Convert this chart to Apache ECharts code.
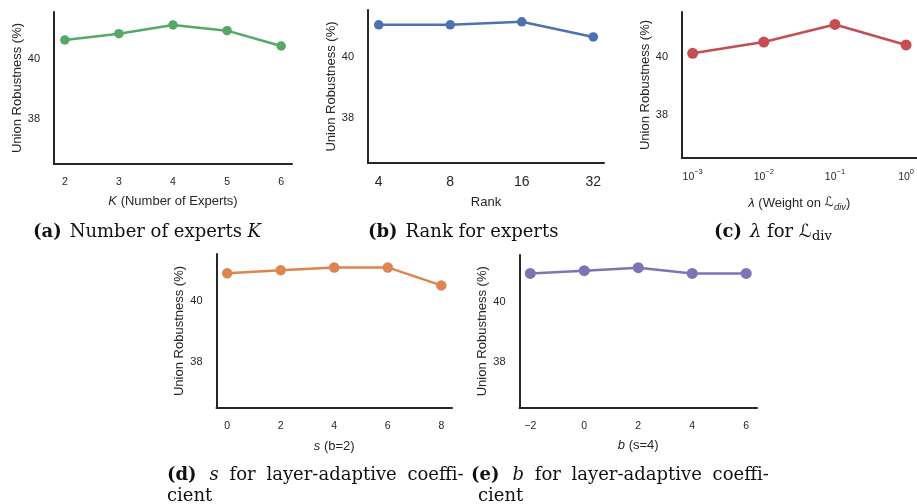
<!DOCTYPE html>
<html>
<head>
<meta charset="utf-8">
<script src="https://cdn.jsdelivr.net/npm/echarts@6/dist/echarts.min.js"></script>
<style>
html, body { margin: 0; padding: 0; background: #fff; }
#chart { width: 917px; height: 504px; }
</style>
</head>
<body>
<div id="chart"></div>
<script>
// y range shared by all panels
const yMin = 36.5
const yMax = 41.55
const yTicks = [38, 40]

const kValues = [2, 3, 4, 5, 6]
const kRobust = [40.62, 40.83, 41.12, 40.93, 40.42]

const rankValues = [4, 8, 16, 32]
const rankRobust = [41.06, 41.06, 41.16, 40.66]

const lambdaValues = [0.001, 0.01, 0.1, 1]
const lambdaRobust = [40.12, 40.51, 41.12, 40.41]

const sValues = [0, 2, 4, 6, 8]
const sRobust = [40.92, 41.02, 41.11, 41.11, 40.52]

const bValues = [-2, 0, 2, 4, 6]
const bRobust = [40.94, 41.03, 41.13, 40.94, 40.94]

const ink = '#262626'
const sans = "'Liberation Sans', Arial, sans-serif"
const serif = "'DejaVu Serif', serif"

// matplotlib style 5% margins
const linRange = (vals) => {
  const lo = Math.min(...vals), hi = Math.max(...vals)
  const pad = (hi - lo) * 0.05
  return [lo - pad, hi + pad]
}
const logRange = (vals, base) => {
  const lg = vals.map(v => Math.log(v) / Math.log(base))
  const lo = Math.min(...lg), hi = Math.max(...lg)
  const pad = (hi - lo) * 0.05
  return [Math.pow(base, lo - pad), Math.pow(base, hi + pad)]
}

const panels = [
  { grid: { left: 54, top: 12, width: 238, height: 152 }, color: '#55a868', size: 9.5,
    xs: kValues, ys: kRobust, kind: 'lin', tickSize: 10.5, nameGap: 28,
    name: '{i|K} (Number of Experts)' },
  { grid: { left: 368, top: 10, width: 236, height: 153 }, color: '#4c72b0', size: 9.5,
    xs: rankValues, ys: rankRobust, kind: 'log2', tickSize: 14, nameGap: 30,
    name: 'Rank' },
  { grid: { left: 682, top: 12, width: 235, height: 146 }, color: '#c44e52', size: 11,
    xs: lambdaValues, ys: lambdaRobust, kind: 'log10', tickSize: 10.5, nameGap: 36,
    name: '{i|λ} (Weight on {cal|ℒ}{sub|div})' },
  { grid: { left: 216.5, top: 254, width: 235.5, height: 154 }, color: '#dd8452', size: 10.5,
    xs: sValues, ys: sRobust, kind: 'lin', tickSize: 10.5, nameGap: 29,
    name: '{i|s} (b=2)' },
  { grid: { left: 519.5, top: 255, width: 237.5, height: 152.5 }, color: '#8172b3', size: 11,
    xs: bValues, ys: bRobust, kind: 'lin', tickSize: 10.5, nameGap: 29,
    name: '{i|b} (s=4)' }
]

const nameRich = {
  i: { fontStyle: 'italic', fontSize: 13, fontFamily: sans, color: ink },
  cal: { fontStyle: 'italic', fontSize: 13, fontFamily: "'DejaVu Sans', sans-serif", color: ink },
  sub: { fontStyle: 'italic', fontSize: 9.5, fontFamily: sans, color: ink, verticalAlign: 'bottom', lineHeight: 10 }
}

const xAxisFor = (p, i) => {
  const base = {
    gridIndex: i,
    name: p.name,
    nameLocation: 'middle',
    nameGap: p.nameGap,
    nameTextStyle: { fontSize: 13, fontFamily: sans, color: ink, lineHeight: 18, rich: nameRich },
    axisLine: { show: true, onZero: false, lineStyle: { color: ink, width: 2 } },
    axisTick: { show: false },
    splitLine: { show: false },
    axisLabel: { fontSize: p.tickSize, fontFamily: sans, color: ink, margin: 13 }
  }
  if (p.kind === 'lin') {
    const r = linRange(p.xs)
    return Object.assign(base, { type: 'value', min: r[0], max: r[1],
      axisLabel: Object.assign(base.axisLabel, { customValues: p.xs,
        formatter: v => (v < 0 ? '\u2212' + (-v) : String(v)) }) })
  }
  const logBase = p.kind === 'log2' ? 2 : 10
  const r = logRange(p.xs, logBase)
  const lbl = Object.assign(base.axisLabel, { showMinLabel: false, showMaxLabel: false })
  if (logBase === 10) {
    lbl.formatter = v => {
      const e = Math.round(Math.log10(v))
      return '10{sup|' + (e < 0 ? '\u2212' + (-e) : e) + '}'
    }
    lbl.lineHeight = 18
    lbl.margin = 10
    lbl.rich = { sup: { fontSize: 7.5, fontFamily: sans, color: ink, verticalAlign: 'top', lineHeight: 8 } }
  } else {
    lbl.formatter = v => String(Math.round(v))
    lbl.margin = 12
  }
  return Object.assign(base, { type: 'log', logBase, min: r[0], max: r[1], splitNumber: 3, axisLabel: lbl })
}

const yAxisFor = (p, i) => ({
  type: 'value',
  gridIndex: i,
  min: yMin,
  max: yMax,
  name: 'Union Robustness (%)',
  nameLocation: 'middle',
  nameGap: 30,
  nameTextStyle: { fontSize: 13, fontFamily: sans, color: ink },
  axisLine: { show: true, onZero: false, lineStyle: { color: ink, width: 2 } },
  axisTick: { show: false },
  splitLine: { show: false },
  axisLabel: { customValues: yTicks, fontSize: 11, fontFamily: sans, color: ink, margin: 14 }
})

const capRich = {
  b: { fontFamily: serif, fontWeight: 'bold', fontSize: 18, color: '#111', padding: [0, 8, 0, 0] },
  bw: { fontFamily: serif, fontWeight: 'bold', fontSize: 18, color: '#111', padding: [0, 13, 0, 0] },
  n: { fontFamily: serif, fontSize: 18, color: '#111' },
  g: { fontFamily: serif, fontSize: 18, color: '#111', padding: [0, 5, 0, 0] },
  i: { fontFamily: serif, fontStyle: 'italic', fontSize: 18, color: '#111' },
  cal: { fontFamily: "'DejaVu Serif', 'DejaVu Sans', serif", fontStyle: 'italic', fontSize: 18, color: '#111' },
  sub: { fontFamily: serif, fontSize: 13, color: '#111', verticalAlign: 'bottom', lineHeight: 12 }
}

const captions = [
  { left: 33, top: 221, text: '{b|(a)}{n|Number of experts }{i|K}' },
  { left: 368, top: 221, text: '{b|(b)}{n|Rank for experts}' },
  { left: 714, top: 221, text: '{b|(c)}{i|λ}{n| for }{cal|ℒ}{sub|div}' },
  { left: 167, top: 464, text: '{bw|(d)}{i|s}{g| }{n|for}{g| }{n|layer-adaptive}{g| }{n|coeffi-}' },
  { left: 167, top: 485, text: '{n|cient}' },
  { left: 471, top: 464, text: '{bw|(e)}{i|b}{g| }{n|for}{g| }{n|layer-adaptive}{g| }{n|coeffi-}' },
  { left: 478, top: 485, text: '{n|cient}' }
]

const chart = echarts.init(document.getElementById('chart'))

chart.setOption({
  animation: false,
  backgroundColor: '#fff',
  title: captions.map(c => ({
    left: c.left, top: c.top, padding: 0,
    text: c.text,
    textStyle: { fontFamily: serif, fontSize: 18, fontWeight: 'normal', color: '#111', lineHeight: 22, rich: capRich }
  })),
  grid: panels.map(p => Object.assign({ containLabel: false }, p.grid)),
  xAxis: panels.map(xAxisFor),
  yAxis: panels.map(yAxisFor),
  series: panels.map((p, i) => ({
    type: 'line',
    xAxisIndex: i,
    yAxisIndex: i,
    data: p.xs.map((x, j) => [x, p.ys[j]]),
    symbol: 'circle',
    symbolSize: p.size,
    showAllSymbol: true,
    lineStyle: { color: p.color, width: 2.5 },
    itemStyle: { color: p.color },
    emphasis: { disabled: true }
  }))
})
</script>
</body>
</html>
